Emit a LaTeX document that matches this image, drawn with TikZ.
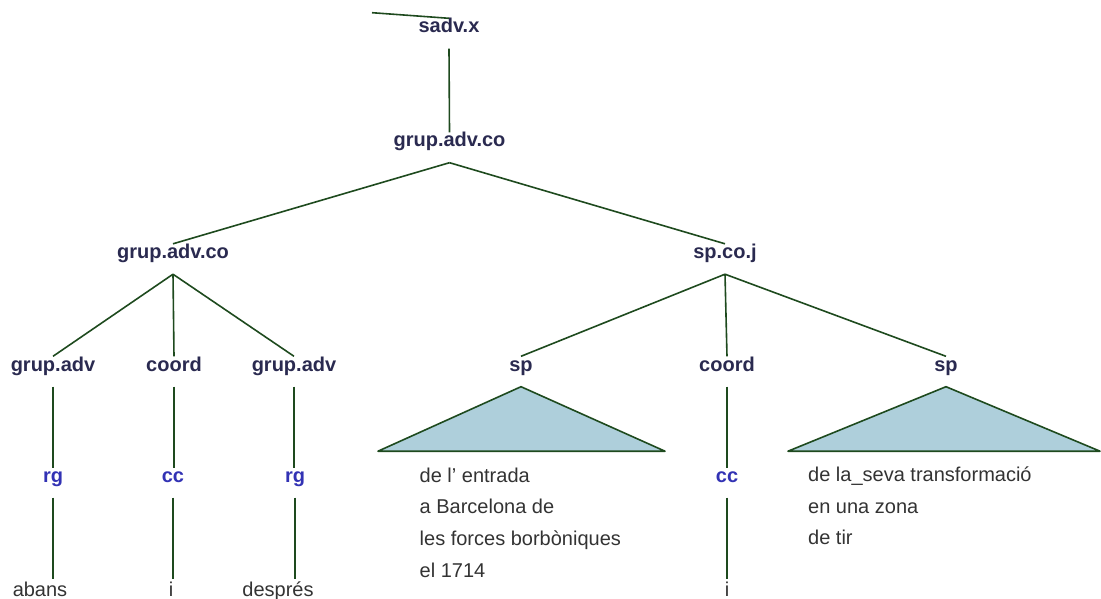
\documentclass[tikz,border=0pt]{standalone}
\usepackage{fontspec}
\setmainfont{Liberation Sans}
\definecolor{labc}{HTML}{2A2A50}
\definecolor{posc}{HTML}{3232B4}
\definecolor{edgec}{HTML}{1E4A1E}
\definecolor{leafc}{HTML}{333333}
\definecolor{trifill}{HTML}{AECFDB}
\tikzset{
  lab/.style={anchor=base, inner xsep=2pt, inner ysep=0pt, text height=14.5pt, text depth=15.5pt,
    font=\fontsize{20}{24}\selectfont\bfseries, text=labc},
  postag/.style={lab, text height=14pt, text=posc},
  leaf/.style={anchor=base, inner sep=0pt, text height=17pt, text depth=0pt,
    font=\fontsize{20}{24}\selectfont, text=leafc},
  block/.style={anchor=base west, inner sep=0pt, align=left,
    font=\fontsize{20}{31.7}\selectfont, text=leafc},
  conn/.style={draw=edgec, line width=1.6pt},
  tri/.style={draw=edgec, line width=1.6pt, fill=trifill, line join=round}
}
\begin{document}
\begin{tikzpicture}[x=1pt,y=-1pt]
\useasboundingbox (0,0) rectangle (1101,599);
% labels
\node[lab] (root) at (449,33) {sadv.x};
\node[lab] (gac) at (449.5,147) {grup.adv.co};
\node[lab] (gacl) at (173,258.5) {grup.adv.co};
\node[lab] (spcoj) at (725,258.5) {sp.co.j};
\node[lab] (ga1) at (53,371) {grup.adv};
\node[lab] (co1) at (174,371) {coord};
\node[lab] (ga2) at (294,371) {grup.adv};
\node[lab] (sp1) at (521,371) {sp};
\node[lab] (co2) at (727,371) {coord};
\node[lab] (sp2) at (946,371) {sp};
\node[postag] (rg1) at (53,482) {rg};
\node[postag] (cc1) at (173,482) {cc};
\node[postag] (rg2) at (295,482) {rg};
\node[postag] (cc2) at (727,482) {cc};
\node[leaf] (w1) at (40,596) {abans};
\node[leaf] (w2) at (171,596) {i};
\node[leaf] (w3) at (278,596) {després};
\node[leaf] (w4) at (727,596) {i};
% multi-line blocks: anchored at the baseline of their last line
\node[block] (b1) at (419.5,577.1) {de l’ entrada\\a Barcelona de\\les forces borbòniques\\el 1714};
\node[block] (b2) at (808,544.9) {de la\_seva transformació\\en una zona\\de tir};
% stub line at top
\coordinate (stub) at (372,12.7);
\draw[conn] (stub) -- (root.north);
% connectors
\draw[conn] (root.south) -- (gac.north);
\draw[conn] (gac.south) -- (gacl.north);
\draw[conn] (gac.south) -- (spcoj.north);
\draw[conn] (gacl.south) -- (ga1.north);
\draw[conn] (gacl.south) -- (co1.north);
\draw[conn] (gacl.south) -- (ga2.north);
\draw[conn] (spcoj.south) -- (sp1.north);
\draw[conn] (spcoj.south) -- (co2.north);
\draw[conn] (spcoj.south) -- (sp2.north);
\draw[conn] (ga1.south) -- (ga1.south |- rg1.north);
\draw[conn] (co1.south) -- (co1.south |- cc1.north);
\draw[conn] (ga2.south) -- (ga2.south |- rg2.north);
\draw[conn] (co2.south) -- (co2.south |- cc2.north);
\draw[conn] (rg1.south) -- (rg1.south |- w1.north);
\draw[conn] (cc1.south) -- (cc1.south |- w2.north);
\draw[conn] (rg2.south) -- (rg2.south |- w3.north);
\draw[conn] (cc2.south) -- (cc2.south |- w4.north);
% triangles
\draw[tri] (sp1.south) -- ++(-143,64.5) -- ++(287,0) -- cycle;
\draw[tri] (sp2.south) -- ++(-158,64.5) -- ++(312,0) -- cycle;
\end{tikzpicture}
\end{document}
